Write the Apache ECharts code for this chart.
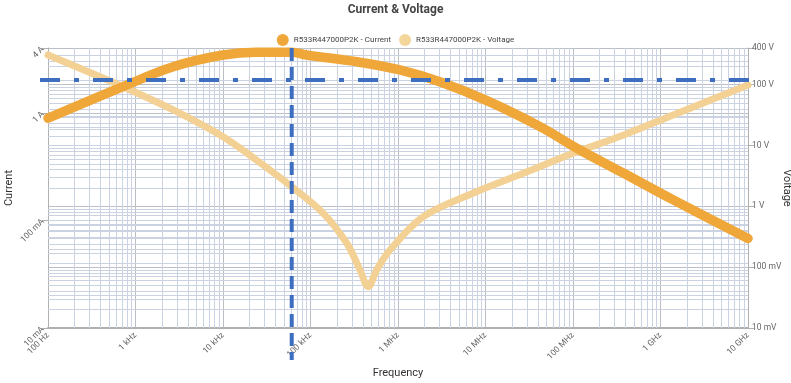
<!DOCTYPE html>
<html>
<head>
<meta charset="utf-8">
<script src="https://cdn.jsdelivr.net/npm/echarts@6/dist/echarts.min.js"></script>
<style>html,body{margin:0;padding:0;background:#fff;}#c{width:791px;height:383px;}</style>
</head>
<body>
<div id="c"></div>
<script>
// ---- data ----
const seriesNames = ['R533R447000P2K - Current', 'R533R447000P2K - Voltage'];
const currentFreq = [100, 720, 2700, 10000, 24000, 61000, 90000, 340000, 1.05e6, 3e6, 1.1e7, 4.2e7, 1.2e8, 3.8e8, 1.4e9, 1e10];
const currentVal  = [0.89, 1.75, 2.68, 3.44, 3.65, 3.65, 3.44, 2.98, 2.5, 1.94, 1.27, 0.743, 0.451, 0.274, 0.155, 0.068];
const voltageFreq = [100, 720, 2700, 10000, 24000, 61000, 140000, 260000, 368000, 457000, 570000, 810000, 1.95e6, 7.2e6, 2.7e7, 1e8, 3.8e8, 1.4e9, 1e10];
const voltageVal  = [307, 92.5, 38.3, 13.9, 5.77, 2.1, 0.767, 0.247, 0.0897, 0.0477, 0.0897, 0.191, 0.675, 1.64, 3.48, 7.43, 14.9, 31.7, 98.6];
const freqTickValues = [100, 1e3, 1e4, 1e5, 1e6, 1e7, 1e8, 1e9, 1e10];
const freqTickLabels = ['100 Hz', '1 kHz', '10 kHz', '100 kHz', '1 MHz', '10 MHz', '100 MHz', '1 GHz', '10 GHz'];
const currentTickValues = [0.01, 0.1, 1, 4];
const currentTickLabels = ['10 mA', '100 mA', '1 A', '4 A'];
const voltageTickValues = [0.01, 0.1, 1, 10, 100, 400];
const voltageTickLabels = ['10 mV', '100 mV', '1 V', '10 V', '100 V', '400 V'];
const markerFreq = 61000;      // vertical dashed marker
const markerCurrent = 2.02;    // horizontal dash-dot marker

// ---- helpers ----
function pairs(xs, ys) { return xs.map((x, i) => [x, ys[i]]); }
function labelFor(vals, labels) {
  return function (v) {
    for (let i = 0; i < vals.length; i++) {
      if (Math.abs(Math.log10(v) - Math.log10(vals[i])) < 0.01) return labels[i];
    }
    return '';
  };
}
function minors(lo, hi) {
  const out = [];
  for (let d = Math.floor(Math.log10(lo)); d <= Math.ceil(Math.log10(hi)); d++) {
    for (let k = 2; k <= 9; k++) {
      const v = k * Math.pow(10, d);
      if (v > lo * 1.0001 && v < hi * 0.9999) out.push(v);
    }
  }
  return out;
}
const FONT = 'Roboto, "Liberation Sans", Arial, sans-serif';
const gridMinor = '#cbd3e3';
const gridMajor = '#bcbec6';

const chart = echarts.init(document.getElementById('c'), null, { renderer: 'canvas' });

function gridSeries(axisKey, values, yIdx, color) {
  return {
    type: 'line', data: [], yAxisIndex: yIdx, z: 1, silent: true, animation: false,
    markLine: {
      z: 1, silent: true, symbol: ['none', 'none'], animation: false,
      label: { show: false },
      lineStyle: { color: color, width: 1, type: 'solid' },
      emphasis: { disabled: true },
      data: values.map(v => ({ [axisKey]: v }))
    }
  };
}

const option = {
  animation: false,
  backgroundColor: '#fff',
  title: {
    text: 'Current & Voltage', left: 'center', top: -1,
    textStyle: { fontFamily: FONT, fontSize: 12, fontWeight: 'bold', color: '#444' }
  },
  legend: {
    top: 29, left: 'center', icon: 'circle', itemWidth: 12, itemHeight: 12, itemGap: 8,
    data: seriesNames,
    textStyle: { fontFamily: FONT, fontSize: 8, color: '#444' }
  },
  grid: { left: 48, right: 43, top: 48, bottom: 55, containLabel: false, outerBoundsMode: 'none' },
  xAxis: {
    type: 'log', logBase: 10, min: 100, max: 1e10, splitNumber: 8,
    name: 'Frequency', nameLocation: 'middle', nameGap: 40, nameMoveOverlap: false,
    nameTextStyle: { fontFamily: FONT, fontSize: 11, color: '#333' },
    axisLine: { show: true, lineStyle: { color: '#b0b0b0', width: 2 } },
    axisTick: { show: false },
    splitLine: { show: true, lineStyle: { color: gridMajor, width: 1 } },
    axisLabel: {
      rotate: 45, fontFamily: FONT, fontSize: 8.5, color: '#666', margin: 6,
      formatter: labelFor(freqTickValues, freqTickLabels)
    }
  },
  yAxis: [
    {
      type: 'log', logBase: 10, min: 0.01, max: 4, position: 'left',
      name: 'Current', nameLocation: 'middle', nameGap: 33, nameRotate: 90, nameMoveOverlap: false,
      nameTextStyle: { fontFamily: FONT, fontSize: 11, color: '#333' },
      axisLine: { show: true, lineStyle: { color: '#b0b0b0', width: 1 } },
      axisTick: { show: true, length: 6, lineStyle: { color: '#b0b0b0' } },
      splitLine: { show: true, lineStyle: { color: gridMajor, width: 1 } },
      axisLabel: {
        rotate: 45, fontFamily: FONT, fontSize: 8.5, color: '#666', margin: 5,
        formatter: labelFor(currentTickValues, currentTickLabels)
      }
    },
    {
      type: 'log', logBase: 10, min: 0.01, max: 400, position: 'right',
      name: 'Voltage', nameLocation: 'middle', nameGap: 33, nameRotate: -90, nameMoveOverlap: false,
      nameTextStyle: { fontFamily: FONT, fontSize: 11, color: '#333' },
      axisLine: { show: true, lineStyle: { color: '#b0b0b0', width: 1 } },
      axisTick: { show: true, length: 6, lineStyle: { color: '#b0b0b0' } },
      splitLine: { show: true, lineStyle: { color: gridMajor, width: 1 } },
      axisLabel: {
        fontFamily: FONT, fontSize: 8.5, color: '#666', margin: 4,
        formatter: labelFor(voltageTickValues, voltageTickLabels)
      }
    }
  ],
  series: [
    gridSeries('xAxis', minors(100, 1e10), 0, gridMinor),
    gridSeries('yAxis', minors(0.01, 4), 0, gridMinor),
    gridSeries('yAxis', minors(0.01, 400), 1, gridMinor),
    {
      name: seriesNames[1], type: 'line', yAxisIndex: 1, z: 3,
      data: pairs(voltageFreq, voltageVal),
      smooth: 0.35, showSymbol: false, symbol: 'none',
      color: '#f4d59c',
      lineStyle: { color: '#f3d194', width: 7, cap: 'round', join: 'round' }
    },
    {
      name: seriesNames[0], type: 'line', yAxisIndex: 0, z: 4,
      data: pairs(currentFreq, currentVal),
      smooth: 0.4, showSymbol: false, symbol: 'none',
      color: '#f0a73a',
      lineStyle: { color: '#f0a73a', width: 9.5, cap: 'round', join: 'round' }
    }
  ]
};
chart.setOption(option);

// Marker lines positioned through the axes' scales
const mx = chart.convertToPixel({ xAxisIndex: 0 }, markerFreq);
const my = chart.convertToPixel({ yAxisIndex: 0 }, markerCurrent);
const xl = chart.convertToPixel({ xAxisIndex: 0 }, 100);
const xr = chart.convertToPixel({ xAxisIndex: 0 }, 1e10);
const yt = chart.convertToPixel({ yAxisIndex: 0 }, 4);
const yb = chart.convertToPixel({ yAxisIndex: 0 }, 0.01);
chart.setOption({
  graphic: [
    {
      type: 'line', z: 10, silent: true,
      shape: { x1: xl - 8, y1: my, x2: xr + 10, y2: my },
      style: { stroke: '#3e6ec0', lineWidth: 4, lineDash: [20, 14, 5, 14] }
    },
    {
      type: 'line', z: 10, silent: true,
      shape: { x1: mx, y1: yt, x2: mx, y2: yb + 32 },
      style: { stroke: '#3e6ec0', lineWidth: 4, lineDash: [13, 6] }
    }
  ]
});
</script>
</body>
</html>
